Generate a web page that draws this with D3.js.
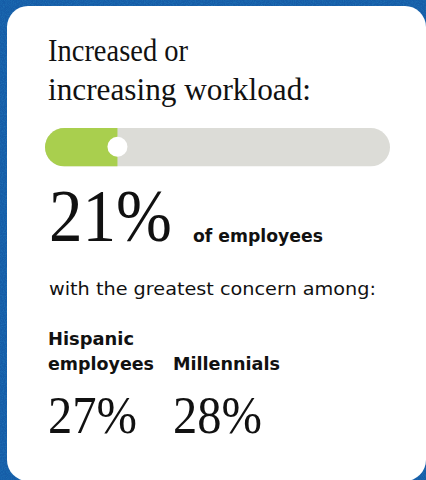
<!DOCTYPE html>
<html>
<head>
<meta charset="utf-8">
<script src="https://cdn.jsdelivr.net/npm/d3@7"></script>
<style>
  html, body { margin: 0; padding: 0; background: #165ca7; }
  svg { display: block; }
</style>
</head>
<body>
<div id="chart"></div>
<script>
// Stat card: share of employees citing increased or increasing workload
const titleLines = ["Increased or", "increasing workload:"];
const overallShare = 21;            // percent of all employees
const overallLabel = "of employees";
const subhead = "with the greatest concern among:";
const groupNames = [["Hispanic", "employees"], ["Millennials"]];
const groupValues = [27, 28];       // percent within each group

const W = 426, H = 480;
const svg = d3.select("#chart").append("svg")
  .attr("width", W).attr("height", H);

const defs = svg.append("defs");

// grainy texture for the blue backdrop
const grain = defs.append("filter").attr("id", "grain")
  .attr("x", 0).attr("y", 0).attr("width", "100%").attr("height", "100%");
grain.append("feTurbulence").attr("type", "fractalNoise")
  .attr("baseFrequency", 0.9).attr("numOctaves", 2).attr("seed", 4).attr("result", "noise");
grain.append("feColorMatrix").attr("in", "noise").attr("type", "matrix")
  .attr("values", "0 0 0 0 0.02  0 0 0 0 0.25  0 0 0 0 0.55  0 0 0 -1.6 1.0")
  .attr("result", "tint");
grain.append("feComposite").attr("in", "tint").attr("in2", "SourceGraphic").attr("operator", "in");

svg.append("rect").attr("width", W).attr("height", H).attr("fill", "#165ca7");
svg.append("rect").attr("width", W).attr("height", H).attr("fill", "#165ca7")
  .attr("filter", "url(#grain)").attr("opacity", 0.55);

// white card
svg.append("rect")
  .attr("x", 7).attr("y", 6).attr("width", 419).attr("height", 475)
  .attr("rx", 21).attr("fill", "#ffffff");

const serif = "'Liberation Serif', 'DejaVu Serif', serif";
const sans = "'DejaVu Sans', Inter, sans-serif";
const ink = "#111111";

// title, each line fitted to its set width
const titleWidths = [140, 263];
svg.append("g").selectAll("text").data(titleLines).join("text")
  .attr("x", 48).attr("y", (d, i) => 61 + i * 39)
  .attr("font-family", serif).attr("font-size", 31.5).attr("fill", ink)
  .attr("textLength", (d, i) => titleWidths[i]).attr("lengthAdjust", "spacingAndGlyphs")
  .text(d => d);

// progress bar
const x = d3.scaleLinear().domain([0, 100]).range([45, 390]);
const barY = 128, barH = 38.5;

defs.append("clipPath").attr("id", "barClip")
  .append("rect")
  .attr("x", x(0)).attr("y", barY)
  .attr("width", x(100) - x(0)).attr("height", barH)
  .attr("rx", barH / 2);

const bar = svg.append("g").attr("clip-path", "url(#barClip)");
bar.append("rect")
  .attr("x", x(0)).attr("y", barY)
  .attr("width", x(100) - x(0)).attr("height", barH)
  .attr("fill", "#dcdcd7");
bar.append("rect")
  .attr("x", x(0)).attr("y", barY)
  .attr("width", x(overallShare) - x(0)).attr("height", barH)
  .attr("fill", "#a9cf4e");

svg.append("circle")
  .attr("cx", x(overallShare)).attr("cy", barY + barH / 2 - 0.5)
  .attr("r", 10).attr("fill", "#ffffff");

// headline number
svg.append("text")
  .attr("x", 49).attr("y", 241)
  .attr("font-family", serif).attr("font-size", 75).attr("fill", ink)
  .attr("textLength", 123).attr("lengthAdjust", "spacingAndGlyphs")
  .text(`${overallShare}%`);

svg.append("text")
  .attr("x", 193).attr("y", 242)
  .attr("font-family", sans).attr("font-size", 17.5).attr("font-weight", 700)
  .attr("fill", ink)
  .attr("textLength", 130).attr("lengthAdjust", "spacingAndGlyphs")
  .text(overallLabel);

svg.append("text")
  .attr("x", 49).attr("y", 295)
  .attr("font-family", sans).attr("font-size", 17.5).attr("fill", ink)
  .attr("textLength", 327).attr("lengthAdjust", "spacingAndGlyphs")
  .text(subhead);

// group breakdown
const groupX = [48, 173];
const nameWidths = [[86, 106], [107]];

const groups = svg.selectAll("g.group").data(groupValues).join("g")
  .attr("class", "group")
  .attr("transform", (d, i) => `translate(${groupX[i]},0)`);

groups.each(function (d, i) {
  const names = groupNames[i];
  d3.select(this).selectAll("text.name").data(names).join("text")
    .attr("class", "name")
    .attr("x", 0).attr("y", (t, k) => 370 - (names.length - 1 - k) * 25.5)
    .attr("font-family", sans).attr("font-size", 17.5).attr("font-weight", 700)
    .attr("fill", ink)
    .attr("textLength", (t, k) => nameWidths[i][k]).attr("lengthAdjust", "spacingAndGlyphs")
    .text(t => t);
});

groups.append("text")
  .attr("x", 0).attr("y", 433)
  .attr("font-family", serif).attr("font-size", 52).attr("fill", ink)
  .attr("textLength", 89).attr("lengthAdjust", "spacingAndGlyphs")
  .text(d => `${d}%`);
</script>
</body>
</html>
